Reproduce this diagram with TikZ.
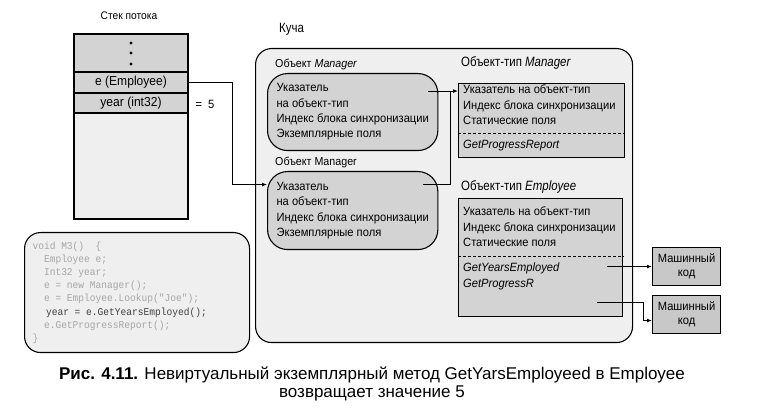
\documentclass[tikz,border=0pt]{standalone}
\usepackage{fontspec}
\setmainfont{Liberation Sans}[FakeStretch=0.93]
\setmonofont{Liberation Mono}[FakeStretch=0.92]
\newfontfamily\capfont{Liberation Sans}
\newfontfamily\headfont{Liberation Sans}[FakeStretch=0.85]
\usetikzlibrary{positioning,fit,arrows.meta}

\definecolor{heapgray}{HTML}{EFEFEF}
\definecolor{boxgray}{HTML}{D3D3D3}
\definecolor{machgray}{HTML}{C8C8C8}
\definecolor{codegray}{HTML}{A6A6A6}
\newcommand\bodyfont{\fontsize{12}{15.3}\selectfont}
\newcommand\titlefont{\headfont\fontsize{13.5}{15}\selectfont}
\newcommand\lblfont{\fontsize{11.5}{14}\selectfont}
\newcommand\sk{\phantom{x}}
\newcommand\ind{\phantom{xx}}

\begin{document}
\begin{tikzpicture}[x=1pt,y=-1pt,
  every node/.style={
    rectangle, inner sep=0pt,
  },
  cell/.style={draw, line width=1.2pt, fill=boxgray, outer sep=0pt,
    minimum width=114pt, font=\fontsize{13}{15}\selectfont},
  bubble/.style={draw, line width=1.1pt, fill=boxgray, rounded corners=20pt,
    minimum width=166pt, inner xsep=9pt, align=left, font=\bodyfont},
  typebox/.style={draw, line width=1.1pt, fill=boxgray, anchor=north west},
  typetext/.style={anchor=north west, align=left, font=\bodyfont},
  machbox/.style={draw, line width=1.1pt, fill=machgray, minimum width=68pt,
    minimum height=38pt, align=center, anchor=north west,
    font=\fontsize{12}{14}\selectfont},
  sep/.style={line width=1pt, dash pattern=on 3pt off 2pt},
  arr/.style={-{Latex[length=5pt,width=4pt]}, line width=1pt},
]
\useasboundingbox (0,0) rectangle (764,414);

% thread stack
\node[font=\fontsize{11}{13}\selectfont] (stacktitle) at (129,16) {Стек потока};
\node[cell, minimum height=38pt, anchor=north west] (dots) at (74,34) {};
\node[cell, minimum height=21pt, below=0pt of dots] (erow) {e (Employee)};
\node[cell, minimum height=20pt, below=0pt of erow] (yearrow) {year (int32)};
\node[cell, fill=heapgray, minimum height=106pt, below=0pt of yearrow] (stackrest) {};
\foreach \dy in {43,53,64}
  \fill (131,\dy) circle (1.6pt);
\node[font=\fontsize{12}{14}\selectfont] (val) at (205,104) {=\ \ 5};

% source code
\node[draw, line width=1.1pt, fill=heapgray, rounded corners=16pt,
  minimum width=225pt, minimum height=120pt, anchor=north west,
  text width=209pt, align=left, text=codegray,
  font=\ttfamily\fontsize{10.4}{13.2}\selectfont] (listing) at (24,232)
  {void\sk M3()\sk\sk\{\\
   \ind Employee\sk e;\\
   \ind Int32\sk year;\\
   \ind e\sk =\sk new\sk Manager();\\
   \ind e\sk =\sk Employee.Lookup("Joe");\\
   \ind\hspace{2pt}\textcolor{black!75}{year\sk =\sk e.GetYearsEmployed();}\\
   \ind e.GetProgressReport();\\
   \}};

% heap
\node[draw, line width=1.1pt, fill=heapgray, rounded corners=16pt,
  minimum width=377pt, minimum height=294pt, anchor=north west] (heap) at (255,48) {};
\node[anchor=west, font=\titlefont] (heaptitle) at (279,29) {Куча};

\node[anchor=west, font=\lblfont] (obj1lbl) at (275,64) {Объект \textit{Manager}};
\node[bubble, minimum height=77pt, anchor=north west] (obj1) at (267,73)
  {Указатель\\на объект-тип\\Индекс блока синхронизации\\Экземплярные поля};
\node[anchor=west, font=\lblfont] (obj2lbl) at (275,162) {Объект Manager};
\node[bubble, minimum height=78pt, anchor=north west] (obj2) at (267,171)
  {Указатель\\на объект-тип\\Индекс блока синхронизации\\Экземплярные поля};

% type objects
\node[anchor=west, font=\titlefont] (mgrtitle) at (461,63) {Объект-тип \textit{Manager}};
\node[typebox, minimum width=166pt, minimum height=74pt] (mgrtype) at (458,83) {};
\node[typetext] (mgrtext) at ([xshift=5pt,yshift=-2pt]mgrtype.north west)
  {Указатель на объект-тип\\Индекс блока синхронизации\\Статические поля};
\draw[sep] ([yshift=-51pt]mgrtype.north west) -- ([yshift=-51pt]mgrtype.north east);
\node[anchor=west, font=\bodyfont\itshape] (mgrgpr) at ([xshift=5pt,yshift=-63pt]mgrtype.north west) {GetProgressReport};

\node[anchor=west, font=\titlefont] (emptitle) at (461,187) {Объект-тип \textit{Employee}};
\node[typebox, minimum width=164pt, minimum height=118pt] (emptype) at (458,198) {};
\node[typetext] (emptext) at ([xshift=5pt,yshift=-9pt]emptype.north west)
  {Указатель на объект-тип\\Индекс блока синхронизации\\Статические поля};
\draw[sep] ([yshift=-59pt]emptype.north west) -- ([yshift=-59pt]emptype.north east);
\node[typetext, font=\bodyfont\itshape] (empmeth) at ([xshift=5pt,yshift=-65pt]emptype.north west)
  {GetYearsEmployed\\GetProgressR};

% native code
\node[machbox] (mcode1) at (652,247) {Машинный\\код};
\node[machbox] (mcode2) at (652,295) {Машинный\\код};

% connectors
\coordinate (m1) at ([xshift=-10pt,yshift=21pt]obj1.east);
\coordinate (m2) at ([xshift=-15pt,yshift=26pt]obj2.east);
\coordinate (j) at (m1 -| obj1.east);
\draw[arr] (erow.east) -- ++(44,0) |- ([yshift=26pt]obj2.west);
\draw[arr] (m1) -- (m1 -| mgrtype.west);
\draw[line width=1pt] (m2) -| ([xshift=12pt]j);
\draw[arr] ([xshift=-45pt]mcode1.west) -- (mcode1.west);
\draw[arr] ([xshift=-55pt,yshift=12pt]mcode2.west) -| ([xshift=-9pt,yshift=-6pt]mcode2.west) -- ([yshift=-6pt]mcode2.west);

% caption
\node[align=center, font=\capfont\fontsize{17}{18}\selectfont] (caption) at (372,384)
  {\textbf{Рис. 4.11.} Невиртуальный экземплярный метод GetYarsEmployeed в Employee\\
   возвращает значение 5};
\end{tikzpicture}
\end{document}
